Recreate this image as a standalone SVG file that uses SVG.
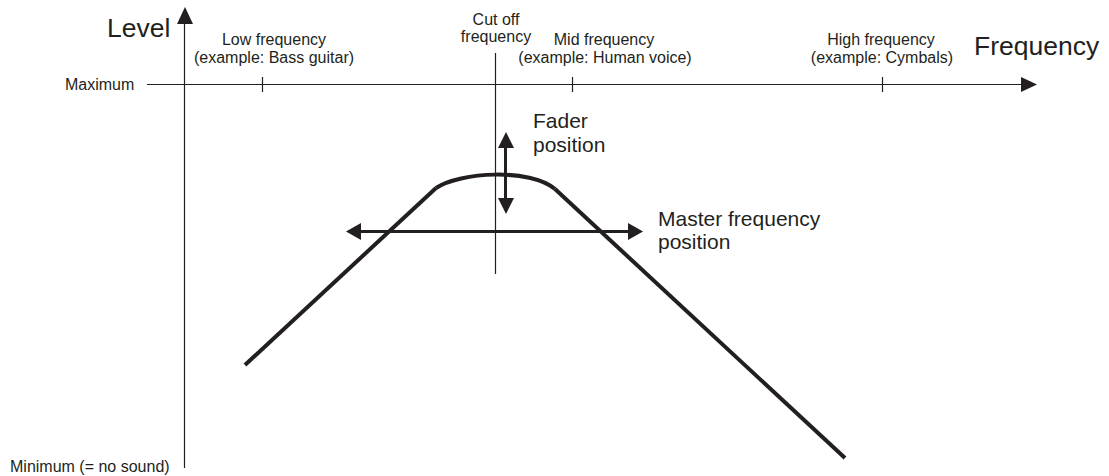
<svg xmlns="http://www.w3.org/2000/svg" width="1109" height="476" viewBox="0 0 1109 476">
<style>
text{font-family:"Liberation Sans",Arial,sans-serif;fill:#231f20}
.s{font-size:16px}
.m{font-size:21px}
.l{font-size:26.5px}
.thin{stroke:#231f20;stroke-width:1.2;fill:none}
.thick{stroke:#231f20;stroke-width:4;fill:none}
.mid{stroke:#231f20;stroke-width:3;fill:none}
.head{fill:#231f20}
</style>
<rect width="1109" height="476" fill="#fff"/>
<g id="axes">
<line class="thin" x1="184.5" y1="22" x2="184.5" y2="468"/>
<polygon class="head" points="185,7 177,24 193,24"/>
<line class="thin" x1="147" y1="84.5" x2="1023" y2="84.5"/>
<polygon class="head" points="1037,84.5 1021,77 1021,92"/>
<line class="thin" x1="262.5" y1="77" x2="262.5" y2="92"/>
<line class="thin" x1="572.5" y1="77" x2="572.5" y2="92"/>
<line class="thin" x1="882.5" y1="77" x2="882.5" y2="92"/>
<line class="thin" x1="495.5" y1="53" x2="495.5" y2="274"/>
</g>
<g id="labels">
<text class="l" x="107" y="37">Level</text>
<text class="l" x="974" y="55">Frequency</text>
<text class="s" x="65" y="90">Maximum</text>
<text class="s" x="10" y="472">Minimum (= no sound)</text>
<text class="s" x="274" y="45" text-anchor="middle">Low frequency</text>
<text class="s" x="274" y="63" text-anchor="middle">(example: Bass guitar)</text>
<text class="s" x="496" y="25" text-anchor="middle">Cut off</text>
<text class="s" x="496" y="42" text-anchor="middle">frequency</text>
<text class="s" x="604" y="45" text-anchor="middle">Mid frequency</text>
<text class="s" x="605" y="63" text-anchor="middle">(example: Human voice)</text>
<text class="s" x="881" y="45" text-anchor="middle">High frequency</text>
<text class="s" x="882" y="63" text-anchor="middle">(example: Cymbals)</text>
</g>
<g id="curve">
<path class="thick" d="M245,365 L436,188"/>
<path class="thick" d="M436,188 C460,172 530,168 555,189"/>
<path class="thick" d="M555,189 L845,458"/>
</g>
<g id="fader">
<line class="mid" x1="505.5" y1="146" x2="505.5" y2="200"/>
<polygon class="head" points="506,132 498,148 514,148"/>
<polygon class="head" points="506,214 498,198 514,198"/>
<text class="m" x="533" y="128">Fader</text>
<text class="m" x="533" y="152">position</text>
</g>
<g id="master">
<line class="mid" x1="359" y1="231.5" x2="630" y2="231.5"/>
<polygon class="head" points="346,231.5 361,223 361,240"/>
<polygon class="head" points="643,231.5 628,223 628,240"/>
<text class="m" x="658" y="226">Master frequency</text>
<text class="m" x="658" y="249">position</text>
</g>
</svg>
